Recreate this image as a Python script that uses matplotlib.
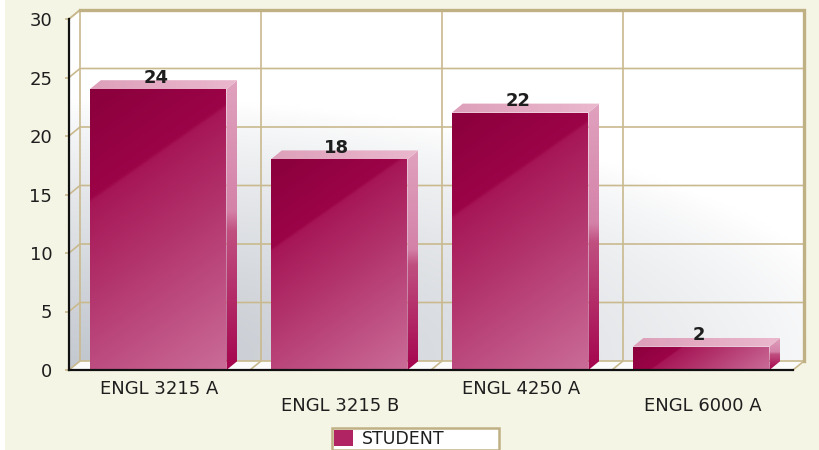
import numpy as np
import matplotlib
matplotlib.use('Agg')
import matplotlib.pyplot as plt
from matplotlib.patches import Polygon, Rectangle

# ---------------- data ----------------
categories = ['ENGL 3215 A', 'ENGL 3215 B', 'ENGL 4250 A', 'ENGL 6000 A']
values = [24, 18, 22, 2]
series_name = 'STUDENT'
y_ticks = [0, 5, 10, 15, 20, 25, 30]

# ---------------- style ----------------
W, H = 820, 450
BG = '#f5f5e6'
GRID = '#c9b98e'
BORDER = '#bfb184'
TEXT = '#1e1e1e'

fig = plt.figure(figsize=(W / 100, H / 100), dpi=100)
fig.patch.set_facecolor(BG)
ax = fig.add_axes([0, 0, 1, 1])
ax.set_facecolor(BG)

n = len(categories)
ymax = y_ticks[-1]
PX0, PX1 = 69, 793      # pixel x of front plane left/right
PY0, PYT = 370, 19      # pixel y (from top) of value 0 and top value
sx = (PX1 - PX0) / n
sy = (PY0 - PYT) / ymax
ax.set_xlim(-PX0 / sx, (W - PX0) / sx)
ax.set_ylim(-(H - PY0) / sy, PY0 / sy)
DX = 11 / sx
DY = 9 / sy
BAR_OFF, BAR_W = 0.115, 0.755


def ramp(t, stops):
    t = np.clip(t, 0, 1)
    out = np.zeros(t.shape + (3,))
    pos = [p for p, c in stops]
    for i in range(3):
        out[..., i] = np.interp(t, pos, [c[i] for p, c in stops])
    return out / 255.0


def grad_fill(verts, func, z, res=120):
    xs = [v[0] for v in verts]
    ys = [v[1] for v in verts]
    x0, x1, y0, y1 = min(xs), max(xs), min(ys), max(ys)
    X, Y = np.meshgrid(np.linspace(0, 1, res), np.linspace(0, 1, res))
    rgb = func(X, Y, (x1 - x0) * sx, (y1 - y0) * sy)
    im = ax.imshow(rgb, extent=(x0, x1, y0, y1), origin='lower', aspect='auto',
                   interpolation='bilinear', zorder=z)
    poly = Polygon(verts, closed=True, transform=ax.transData)
    im.set_clip_path(poly)
    return im


FRONT_STOPS = [(0, (138, 0, 60)), (0.29, (156, 4, 72)), (0.30, (166, 22, 86)),
               (1, (202, 108, 152))]
SIDE_STOPS = [(0, (224, 162, 190)), (0.45, (212, 130, 168)), (0.52, (192, 80, 128)),
              (1, (165, 5, 78))]
TOP_STOPS = [(0, (222, 160, 186)), (1, (234, 184, 205))]
WALL_LIGHT = np.array([255, 255, 255]) / 255.0
WALL_DARK = np.array([194, 199, 206]) / 255.0


def front_func(X, Y, w, h):
    px = X * w
    py = (1 - Y) * h
    a, b = 0.574, 0.819
    t = (a * px + b * py) / (a * w + b * h)
    return ramp(t, FRONT_STOPS)


def side_func(X, Y, w, h):
    return ramp(1 - Y, SIDE_STOPS)


def top_func(X, Y, w, h):
    return ramp(X, TOP_STOPS)


def wall_func(X, Y, w, h):
    d = 1 - np.sqrt((X / 1.1) ** 2 + (Y / 0.75) ** 2)
    d = np.clip(d, 0, 1) ** 0.8
    return WALL_LIGHT * (1 - d[..., None]) + WALL_DARK * d[..., None]


def leftwall_func(X, Y, w, h):
    return wall_func(X * 0, Y, w, h) * 0.97 + 0.03


# ---------------- walls ----------------
back = [(DX, DY), (n + DX, DY), (n + DX, ymax + DY), (DX, ymax + DY)]
grad_fill(back, wall_func, 0)
left = [(0, 0), (DX, DY), (DX, ymax + DY), (0, ymax)]
grad_fill(left, leftwall_func, 0)
ax.add_patch(Polygon([(0, 0), (n, 0), (n + DX, DY), (DX, DY)], closed=True,
                     facecolor='#fbfbfb', edgecolor='none', zorder=0))

# grid lines
for v in y_ticks:
    ax.plot([0, DX, n + DX], [v, v + DY, v + DY], color=GRID, lw=1.2, zorder=1,
            solid_joinstyle='miter')
for k in range(1, n):
    ax.plot([k, k + DX, k + DX], [0, DY, ymax + DY], color=GRID, lw=1.2, zorder=1)
ax.plot([n, n + DX], [0, DY], color=GRID, lw=1.2, zorder=1)
ax.plot([DX, DX], [DY, ymax + DY], color=GRID, lw=1.2, zorder=1)
ax.plot([0, DX], [ymax, ymax + DY], color=GRID, lw=1.2, zorder=1)
ax.plot([DX, n + DX, n + DX], [ymax + DY, ymax + DY, DY], color=BORDER, lw=2.4,
        zorder=1, solid_joinstyle='miter')

# ---------------- bars ----------------
for k, v in enumerate(values):
    x0 = k + BAR_OFF
    x1 = x0 + BAR_W
    grad_fill([(x0, 0), (x1, 0), (x1, v), (x0, v)], front_func, 3)
    grad_fill([(x1, 0), (x1 + DX, DY), (x1 + DX, v + DY), (x1, v)], side_func, 3)
    grad_fill([(x0, v), (x1, v), (x1 + DX, v + DY), (x0 + DX, v + DY)], top_func, 3)
    ax.text(k + 0.48, v + DY - 0.2, str(v), ha='center', va='baseline',
            fontsize=13, fontweight='bold', color=TEXT, zorder=6)

# ---------------- axes ----------------
for s in ['top', 'right']:
    ax.spines[s].set_visible(False)
ax.spines['left'].set_position(('data', 0))
ax.spines['left'].set_bounds(0, ymax)
ax.spines['bottom'].set_position(('data', 0))
ax.spines['bottom'].set_bounds(0, n)
for s in ['left', 'bottom']:
    ax.spines[s].set_color('#111111')
    ax.spines[s].set_linewidth(1.6)
    ax.spines[s].set_zorder(5)

ax.set_yticks(y_ticks)
ax.set_yticklabels([str(t) for t in y_ticks])
ax.tick_params(axis='y', length=3, width=1.2, color=GRID, pad=9,
               labelsize=13, labelcolor=TEXT)
pos = [k + 0.5 for k in range(n)]
ax.set_xticks(pos[::2], categories[::2])
ax.set_xticks(pos[1::2], categories[1::2], minor=True)
ax.tick_params(axis='x', which='both', length=0, labelsize=13, labelcolor=TEXT)
ax.tick_params(axis='x', which='major', pad=7)
ax.tick_params(axis='x', which='minor', pad=19.5)

# ---------------- legend ----------------
handle = Rectangle((0, 0), 1, 1, facecolor=(176 / 255, 36 / 255, 100 / 255),
                   edgecolor='none')
leg = ax.legend([handle], [series_name], loc='upper left',
                bbox_to_anchor=(332 / W, 1 - 428 / H - 30 / H, 167 / W, 30 / H),
                bbox_transform=fig.transFigure, mode='expand',
                frameon=True, fancybox=False, edgecolor=BORDER, facecolor='white',
                framealpha=1, fontsize=12.5, handlelength=1.1, handleheight=1.0,
                borderpad=0.12, handletextpad=0.5, borderaxespad=0)
leg.get_frame().set_linewidth(1.8)
for t in leg.get_texts():
    t.set_color(TEXT)

# left white strip
fig.patches.append(Rectangle((0, 0), 5 / W, 1, transform=fig.transFigure,
                             facecolor='white', edgecolor='none', zorder=10))

ax.set_xlim(-PX0 / sx, (W - PX0) / sx)
ax.set_ylim(-(H - PY0) / sy, PY0 / sy)
fig.savefig('out.png', dpi=100, facecolor=fig.get_facecolor())
